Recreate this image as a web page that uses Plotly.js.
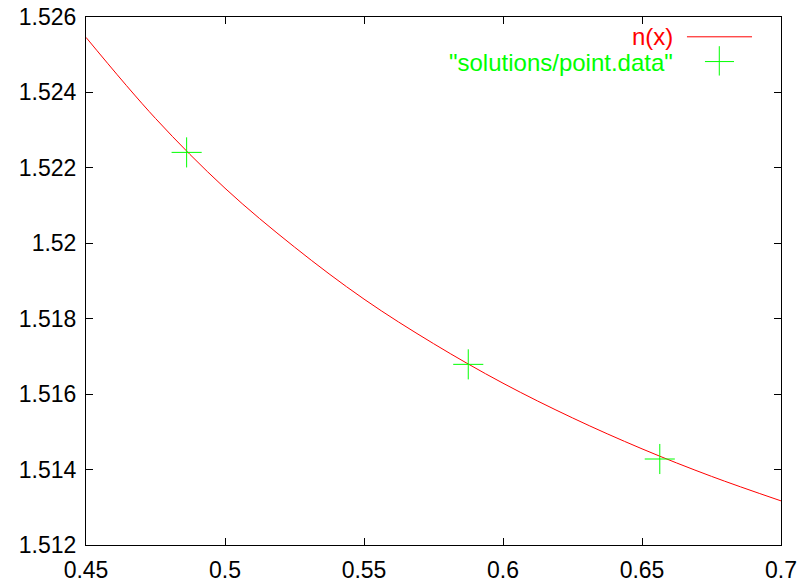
<!DOCTYPE html>
<html>
<head>
<meta charset="utf-8">
<script src="https://cdn.plot.ly/plotly-3.0.1.min.js"></script>
<style>html,body{margin:0;padding:0;background:#fff;}#chart{width:799px;height:582px;}</style>
</head>
<body>
<div id="chart"></div>
<script>
// n(x) curve values
const curveX = [0.45, 0.475, 0.5, 0.525, 0.55, 0.575, 0.6, 0.625, 0.65, 0.675, 0.7];
const curveY = [1.52546, 1.52331, 1.52146, 1.51990, 1.51852, 1.51734, 1.51629, 1.51537, 1.51455, 1.51382, 1.51317];
// "solutions/point.data" points
const pointX = [0.4862, 0.5875, 0.6564];
const pointY = [1.52241, 1.51679, 1.51428];
const curveName = 'n(x)';
const pointName = '"solutions/point.data"';
const xTicks = [0.45, 0.5, 0.55, 0.6, 0.65, 0.7];
const xTickText = ['0.45', '0.5', '0.55', '0.6', '0.65', '0.7'];
const yTicks = [1.512, 1.514, 1.516, 1.518, 1.52, 1.522, 1.524, 1.526];
const yTickText = ['1.512', '1.514', '1.516', '1.518', '1.52', '1.522', '1.524', '1.526'];

const RED = '#ff0000', GREEN = '#00ff00';
const FONT = 'Liberation Sans, Arial, sans-serif';

const traces = [
  {x: curveX, y: curveY, name: curveName, mode: 'lines', type: 'scatter',
   line: {color: RED, width: 1, shape: 'spline', smoothing: 1}, hoverinfo: 'skip', showlegend: false},
  {x: pointX, y: pointY, name: pointName, mode: 'markers', type: 'scatter',
   marker: {symbol: 'cross-thin-open', size: 21.5, color: GREEN, line: {color: GREEN, width: 1}}, hoverinfo: 'skip', showlegend: false}
];

const axisCommon = {
  showgrid: false, zeroline: false, showline: true, linecolor: '#000', linewidth: 1,
  mirror: 'ticks', ticks: 'inside', ticklen: 7, tickcolor: '#000', tickwidth: 1,
  tickfont: {family: FONT, size: 23, color: '#000'}, tickmode: 'array'
};

const layout = {
  width: 799, height: 582,
  margin: {l: 86, r: 18, t: 17, b: 37},
  paper_bgcolor: '#fff', plot_bgcolor: '#fff',
  showlegend: false,
  xaxis: Object.assign({}, axisCommon, {range: [0.45, 0.7], tickvals: xTicks, ticktext: xTickText, ticklabelstandoff: 4}),
  yaxis: Object.assign({}, axisCommon, {range: [1.512, 1.526], tickvals: yTicks, ticktext: yTickText, ticklabelstandoff: 4}),
  annotations: [
    {xref: 'paper', yref: 'paper', x: 0.8475, y: 0.963, xanchor: 'right', yanchor: 'middle', showarrow: false,
     text: curveName, font: {family: FONT, size: 24, color: RED}},
    {xref: 'paper', yref: 'paper', x: 0.8475, y: 0.9146, xanchor: 'right', yanchor: 'middle', showarrow: false,
     text: pointName, font: {family: FONT, size: 24, color: GREEN}}
  ],
  shapes: [
    {type: 'line', xref: 'paper', yref: 'paper', x0: 0.8647, x1: 0.9583, y0: 0.9625, y1: 0.9625, line: {color: RED, width: 1}},
    {type: 'line', xref: 'paper', yref: 'paper', x0: 0.8906, x1: 0.9324, y0: 0.9156, y1: 0.9156, line: {color: GREEN, width: 1}},
    {type: 'line', xref: 'paper', yref: 'paper', x0: 0.9112, x1: 0.9112, y0: 0.8891, y1: 0.9447, line: {color: GREEN, width: 1}}
  ]
};

Plotly.newPlot('chart', traces, layout, {staticPlot: true, displayModeBar: false});
</script>
</body>
</html>
